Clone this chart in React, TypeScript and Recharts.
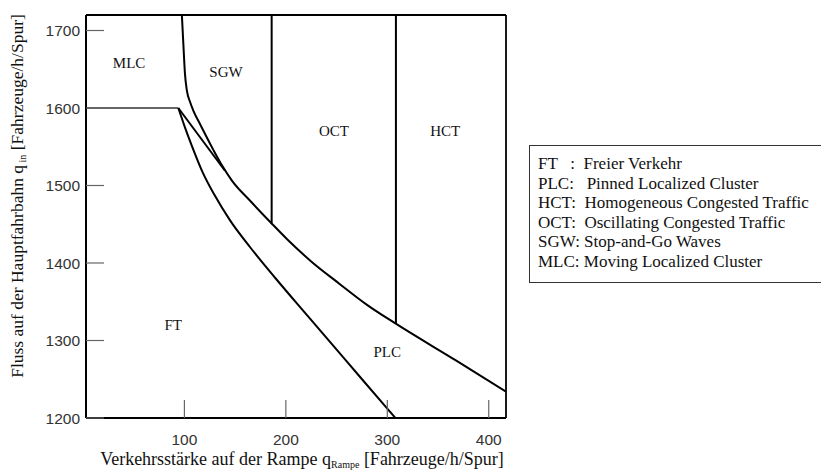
import React from 'react';
import { ComposedChart, Line, Scatter, XAxis, YAxis } from 'recharts';

// axis ticks
const xTicks = [100, 200, 300, 400];
const yTicks = [1200, 1300, 1400, 1500, 1600, 1700];

// boundary lines of the phase diagram (q_Rampe, q_in)
const mlcLineX = [3, 94];
const mlcLineY = [1600, 1600];

const ftLineX = [94, 100, 108, 118, 130, 145, 165, 190, 220, 260, 300, 308];
const ftLineY = [1600, 1577, 1549, 1517, 1487, 1455, 1420, 1380, 1334, 1273, 1212, 1200];

const plcJoinX = [94, 140];
const plcJoinY = [1600, 1519];

const sgwLineX = [97.5, 99, 100.5, 102.5, 105.5, 109, 115.5, 128.5, 137, 147, 165, 186, 201, 225, 253, 280, 308, 368, 417];
const sgwLineY = [1720, 1682, 1645, 1622, 1608, 1596, 1579, 1546, 1526, 1506, 1480, 1451, 1431, 1402, 1373, 1346, 1322, 1274, 1234];

const octLineX = [186, 186];
const octLineY = [1720, 1451];

const hctLineX = [308.5, 308.5];
const hctLineY = [1720, 1322];

// region names
const regionNames = ['MLC', 'SGW', 'OCT', 'HCT', 'FT', 'PLC'];
const regionX = [45.5, 141, 247.5, 357, 89, 300];
const regionY = [1658, 1646, 1570, 1570, 1320, 1285];

const legendLines = [
    'FT   :  Freier Verkehr',
    'PLC:   Pinned Localized Cluster',
    'HCT:  Homogeneous Congested Traffic',
    'OCT:  Oscillating Congested Traffic',
    'SGW: Stop-and-Go Waves',
    'MLC: Moving Localized Cluster',
];

const toPoints = (xs: number[], ys: number[]) => xs.map((x, i) => ({ x, y: ys[i] }));

const SERIF = '"Liberation Serif", "Times New Roman", serif';
const SANS = '"Liberation Sans", Arial, sans-serif';

const XTick = (props: any) => {
    const { x, y, payload } = props;
    return (
        <g>
            <line x1={x} y1={y} x2={x} y2={y - 18} stroke="#666" strokeWidth={1.2} />
            <text x={x} y={y + 27} textAnchor="middle" fontFamily={SANS} fontSize={15.5} fill="#333">
                {payload.value}
            </text>
        </g>
    );
};

const YTick = (props: any) => {
    const { x, y, payload } = props;
    return (
        <g>
            <line x1={x} y1={y} x2={x + 18} y2={y} stroke="#666" strokeWidth={1.2} />
            <text x={x - 6} y={y + 5.5} textAnchor="end" fontFamily={SANS} fontSize={15.5} fill="#333">
                {payload.value}
            </text>
        </g>
    );
};

const RegionLabel = (props: any) => {
    const { cx, cy, payload } = props;
    return (
        <text x={cx} y={cy + 5} textAnchor="middle" fontFamily={SERIF} fontSize={15} fill="#111">
            {payload.name}
        </text>
    );
};

const lineProps = {
    dataKey: 'y',
    stroke: '#000',
    strokeWidth: 2,
    dot: false,
    activeDot: false,
    isAnimationActive: false,
    legendType: 'none' as const,
};

export default function App() {
    const regions = regionNames.map((name, i) => ({ name, x: regionX[i], y: regionY[i] }));

    return (
        <div style={{ position: 'absolute', left: 0, top: 0, width: 821, height: 474, background: '#fff' }}>
            <ComposedChart width={821} height={474} margin={{ top: 14, right: 314, bottom: 55, left: 85 }}>
                <XAxis
                    dataKey="x"
                    type="number"
                    domain={[3, 417]}
                    ticks={xTicks}
                    allowDataOverflow
                    height={1}
                    tickSize={0}
                    tickMargin={0}
                    axisLine={{ stroke: '#000', strokeWidth: 2 }}
                    tickLine={false}
                    tick={<XTick />}
                />
                <XAxis
                    xAxisId="top"
                    orientation="top"
                    dataKey="x"
                    type="number"
                    domain={[3, 417]}
                    allowDataOverflow
                    height={1}
                    tick={false}
                    tickLine={false}
                    axisLine={{ stroke: '#000', strokeWidth: 1.8 }}
                />
                <YAxis
                    type="number"
                    domain={[1200, 1720]}
                    ticks={yTicks}
                    allowDataOverflow
                    width={1}
                    tickSize={0}
                    tickMargin={0}
                    axisLine={{ stroke: '#000', strokeWidth: 2 }}
                    tickLine={false}
                    tick={<YTick />}
                />
                <YAxis
                    yAxisId="right"
                    orientation="right"
                    type="number"
                    domain={[1200, 1720]}
                    allowDataOverflow
                    width={1}
                    tick={false}
                    tickLine={false}
                    axisLine={{ stroke: '#000', strokeWidth: 1.8 }}
                />
                <Line {...lineProps} data={toPoints(mlcLineX, mlcLineY)} type="linear" stroke="#333" strokeWidth={1.5} />
                <Line {...lineProps} data={toPoints(ftLineX, ftLineY)} type="monotone" />
                <Line {...lineProps} data={toPoints(plcJoinX, plcJoinY)} type="linear" />
                <Line {...lineProps} data={toPoints(sgwLineX, sgwLineY)} type="monotone" />
                <Line {...lineProps} data={toPoints(octLineX, octLineY)} type="linear" />
                <Line {...lineProps} data={toPoints(hctLineX, hctLineY)} type="linear" />
                <Line
                    {...lineProps}
                    data={toPoints(hctLineX, hctLineY)}
                    xAxisId="top"
                    yAxisId="right"
                    stroke="none"
                />
                <Scatter data={regions} dataKey="y" shape={<RegionLabel />} isAnimationActive={false} />
            </ComposedChart>

            <svg width={821} height={474} style={{ position: 'absolute', left: 0, top: 0, pointerEvents: 'none' }}>
                <text
                    transform="rotate(-90)"
                    x={-196}
                    y={23}
                    textAnchor="middle"
                    fontFamily={SERIF}
                    fontSize={17.5}
                    fill="#111"
                >
                    Fluss auf der Hauptfahrbahn q
                    <tspan fontSize={10} dy={3}> in</tspan>
                    <tspan fontSize={17.5} dy={-3}> [Fahrzeuge/h/Spur]</tspan>
                </text>
                <text x={302} y={465} textAnchor="middle" fontFamily={SERIF} fontSize={18} fill="#111">
                    Verkehrsstärke auf der Rampe q
                    <tspan fontSize={10} dy={3}>Rampe</tspan>
                    <tspan fontSize={18} dy={-3}> [Fahrzeuge/h/Spur]</tspan>
                </text>
            </svg>

            <div
                style={{
                    position: 'absolute',
                    left: 529,
                    top: 145,
                    width: 300,
                    height: 138,
                    border: '1.5px solid #333',
                    boxSizing: 'border-box',
                    padding: '8px 0 0 8px',
                    fontFamily: SERIF,
                    fontSize: 17,
                    lineHeight: '19.5px',
                    color: '#111',
                    whiteSpace: 'pre',
                }}
            >
                {legendLines.map((l) => (
                    <div key={l}>{l}</div>
                ))}
            </div>
        </div>
    );
}
